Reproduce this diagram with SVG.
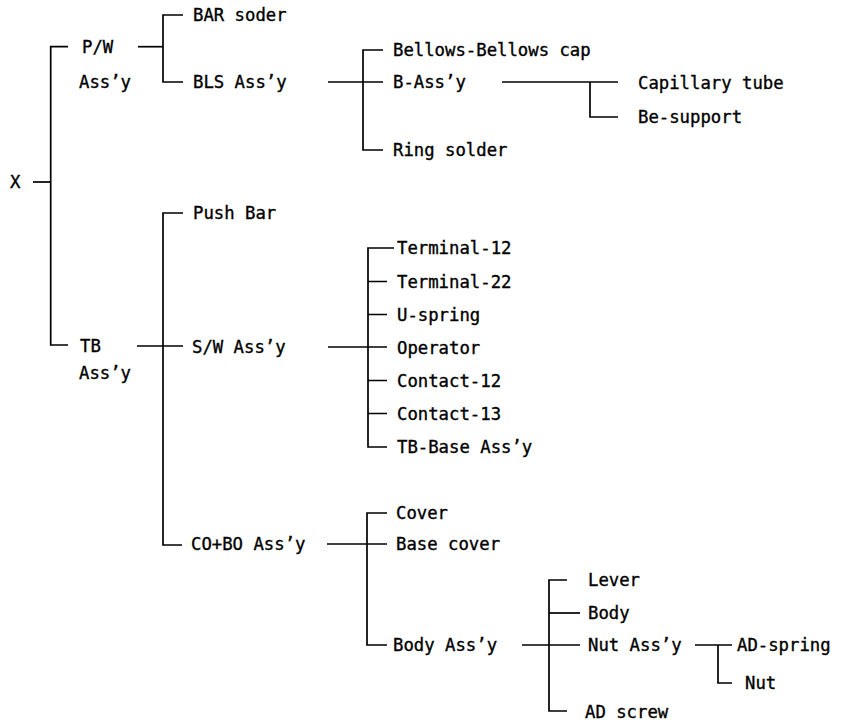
<svg xmlns="http://www.w3.org/2000/svg" width="853" height="723" viewBox="0 0 853 723">
<style>
text{font-family:"DejaVu Sans Mono","Liberation Mono",monospace;font-size:17.3px;fill:#000;stroke:#000;stroke-width:0.35}
.c path{fill:none;stroke:#000;stroke-width:1.7}
</style>
<rect width="853" height="723" fill="#fff"/>
<g class="c" id="connectors">
<path d="M33 182H50.7"/>
<path d="M68 46.7H50.7V345H68"/>
<path d="M138 46.7H163"/>
<path d="M183 15H163V82H183"/>
<path d="M328 82H383"/>
<path d="M383 50H363V150H383"/>
<path d="M502 82H618"/>
<path d="M590 82V117H618"/>
<path d="M137 346H183"/>
<path d="M183 213H163V545H182"/>
<path d="M328 347H387"/>
<path d="M394 248H368V447H387"/>
<path d="M368 281.5H387M368 314.5H387M368 380.5H387M368 413.5H387"/>
<path d="M327 544H387"/>
<path d="M387 513H367V645H387"/>
<path d="M522 645H580"/>
<path d="M567 580H549V711H567"/>
<path d="M549 613H580"/>
<path d="M695 645H732"/>
<path d="M718 645V683H732"/>
</g>
<g id="n-x"><text x="10" y="188">X</text></g>
<g id="n-pw"><text x="82" y="53">P/W</text><text x="79" y="88">Ass’y</text></g>
<g id="n-bar"><text x="193" y="21">BAR soder</text></g>
<g id="n-bls"><text x="193" y="88">BLS Ass’y</text></g>
<g id="n-bellows"><text x="393" y="56">Bellows-Bellows cap</text></g>
<g id="n-bassy"><text x="393" y="88">B-Ass’y</text></g>
<g id="n-ring"><text x="393" y="156">Ring solder</text></g>
<g id="n-cap"><text x="638" y="89">Capillary tube</text></g>
<g id="n-besup"><text x="638" y="123">Be-support</text></g>
<g id="n-tb"><text x="80" y="352">TB</text><text x="79" y="379">Ass’y</text></g>
<g id="n-push"><text x="193" y="219">Push Bar</text></g>
<g id="n-sw"><text x="192" y="353">S/W Ass’y</text></g>
<g id="n-t12"><text x="397" y="254">Terminal-12</text></g>
<g id="n-t22"><text x="397" y="287.5">Terminal-22</text></g>
<g id="n-usp"><text x="397" y="320.5">U-spring</text></g>
<g id="n-op"><text x="397" y="353.5">Operator</text></g>
<g id="n-c12"><text x="397" y="386.5">Contact-12</text></g>
<g id="n-c13"><text x="397" y="419.5">Contact-13</text></g>
<g id="n-tbb"><text x="397" y="452.5">TB-Base Ass’y</text></g>
<g id="n-cobo"><text x="191" y="550">CO+BO Ass’y</text></g>
<g id="n-cover"><text x="396" y="519">Cover</text></g>
<g id="n-bcover"><text x="396" y="550">Base cover</text></g>
<g id="n-body-assy"><text x="393" y="651">Body Ass’y</text></g>
<g id="n-lever"><text x="588" y="586">Lever</text></g>
<g id="n-body"><text x="588" y="619">Body</text></g>
<g id="n-nut-assy"><text x="588" y="651">Nut Ass’y</text></g>
<g id="n-adscrew"><text x="585" y="717.5">AD screw</text></g>
<g id="n-adspring"><text x="737" y="651">AD-spring</text></g>
<g id="n-nut"><text x="745" y="689">Nut</text></g>
</svg>
